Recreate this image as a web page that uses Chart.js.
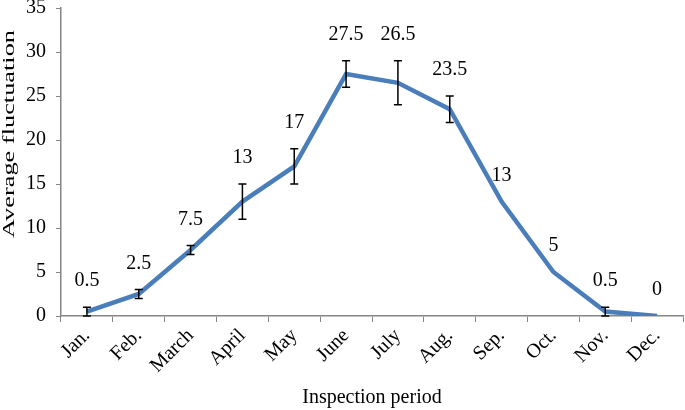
<!DOCTYPE html>
<html>
<head>
<meta charset="utf-8">
<script src="https://cdn.jsdelivr.net/npm/chart.js@4.4.0/dist/chart.umd.min.js"></script>
<style>
  html, body { margin: 0; padding: 0; background: #fff; }
</style>
</head>
<body>
<canvas id="grafica" width="685" height="410"></canvas>
<script>
// Datos
const meses = ['Jan.', 'Feb.', 'March', 'April', 'May', 'June', 'July', 'Aug.', 'Sep.', 'Oct.', 'Nov.', 'Dec.'];
const fluctuacion = [0.5, 2.5, 7.5, 13, 17, 27.5, 26.5, 23.5, 13, 5, 0.5, 0];
const errorBarra = [0.5, 0.5, 0.5, 2, 2, 1.5, 2.5, 1.5, 0, 0, 0.5, 0];
const ticksY = [0, 5, 10, 15, 20, 25, 30, 35];
const tituloY = 'Average fluctuation';

const fuente = "'Liberation Serif', 'Times New Roman', serif";

// Barras de error, etiquetas y titulo del eje Y
const barrasError = {
    id: 'barrasError',
    afterDatasetsDraw(chart) {
        const ctx = chart.ctx;
        const y = chart.scales.y;
        const meta = chart.getDatasetMeta(0);
        ctx.save();
        ctx.strokeStyle = '#000';
        ctx.lineWidth = 1.5;
        meta.data.forEach((pt, i) => {
            const e = errorBarra[i];
            if (e <= 0) return;
            const top = y.getPixelForValue(fluctuacion[i] + e);
            const bot = y.getPixelForValue(fluctuacion[i] - e);
            ctx.beginPath();
            ctx.moveTo(pt.x, top); ctx.lineTo(pt.x, bot);
            ctx.moveTo(pt.x - 4, top); ctx.lineTo(pt.x + 4, top);
            ctx.moveTo(pt.x - 4, bot); ctx.lineTo(pt.x + 4, bot);
            ctx.stroke();
        });
        ctx.fillStyle = '#000';
        ctx.font = '20px ' + fuente;
        ctx.textAlign = 'center';
        ctx.textBaseline = 'middle';
        meta.data.forEach((pt, i) => {
            const top = y.getPixelForValue(fluctuacion[i] + errorBarra[i]);
            ctx.fillText(String(fluctuacion[i]), pt.x, top - 26);
        });
        ctx.restore();

        // titulo Y (estirado a lo largo, como en la imagen)
        const area = chart.chartArea;
        ctx.save();
        ctx.translate(10, (area.top + area.bottom) / 2 - 28);
        ctx.rotate(-Math.PI / 2);
        ctx.scale(1.55, 1);
        ctx.font = '17px ' + fuente;
        ctx.fillStyle = '#000';
        ctx.textAlign = 'center';
        ctx.textBaseline = 'middle';
        ctx.fillText(tituloY, 0, 0);
        ctx.restore();
    }
};

const ctx = document.getElementById('grafica').getContext('2d');
const grafica = new Chart(ctx, {
    type: 'line',
    data: {
        labels: meses,
        datasets: [{
            data: fluctuacion,
            borderColor: '#4a7ebb',
            borderWidth: 4.5,
            pointRadius: 0,
            fill: false,
            tension: 0
        }]
    },
    options: {
        responsive: false,
        animation: false,
        layout: { padding: { top: 8, right: 2, left: 0, bottom: 0 } },
        plugins: {
            legend: { display: false },
            tooltip: { enabled: false }
        },
        scales: {
            x: {
                offset: true,
                grid: { offset: true, drawOnChartArea: false, drawTicks: true, tickLength: 6, color: '#868686' },
                border: { color: '#868686', width: 1.5 },
                ticks: {
                    color: '#000',
                    font: { family: fuente, size: 20 },
                    autoSkip: false,
                    maxRotation: 45, minRotation: 45,
                    padding: 2
                },
                title: {
                    display: true,
                    text: 'Inspection period',
                    color: '#000',
                    font: { family: fuente, size: 20 },
                    padding: { top: 0, bottom: 0 }
                },
                afterFit(scale) { scale.height = 94; scale.paddingLeft = 0; scale.paddingRight = 0; }
            },
            y: {
                min: 0, max: 35,
                afterBuildTicks(scale) { scale.ticks = ticksY.map(v => ({ value: v })); },
                grid: { drawOnChartArea: false, drawTicks: true, tickLength: 5, color: '#868686' },
                border: { color: '#868686', width: 1.5 },
                ticks: {
                    color: '#000',
                    font: { family: fuente, size: 20 },
                    padding: 10
                },
                afterFit(scale) { scale.width = 61; scale.paddingTop = 0; scale.paddingBottom = 0; }
            }
        }
    },
    plugins: [barrasError]
});
</script>
</body>
</html>
